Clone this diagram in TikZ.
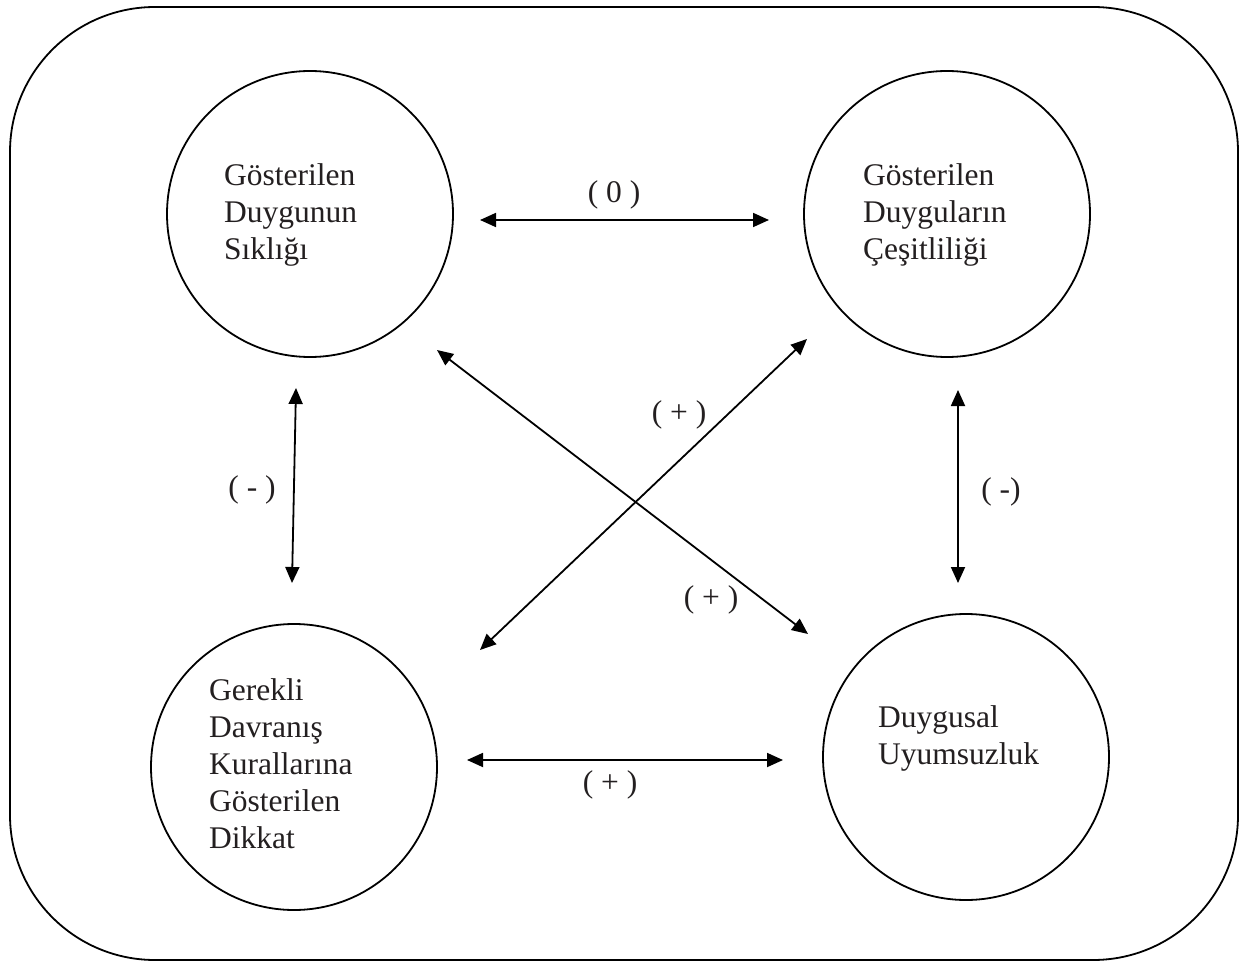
\documentclass[tikz,border=0pt]{standalone}
\usepackage{fontspec}
\setmainfont{Liberation Serif}
\usetikzlibrary{arrows.meta}
\definecolor{ink}{HTML}{231F20}
\tikzset{
  frame/.style={draw=black, line width=1.8pt, rounded corners=145pt},
  bubble/.style={draw=black, line width=1.8pt, circle, minimum size=286pt, inner sep=0pt},
  btext/.style={anchor=west, align=left, inner sep=0pt, text=ink, font=\fontsize{31.5}{37}\selectfont},
  lbl/.style={inner sep=0pt, text=ink, font=\fontsize{31.5}{37}\selectfont},
  dbl/.style={line width=1.8pt, {Triangle[length=16pt,width=14pt]}-{Triangle[length=16pt,width=14pt]}}
}
\begin{document}
\begin{tikzpicture}[x=1pt,y=-1pt]
\useasboundingbox (0,0) rectangle (1242,965);
\draw[frame] (10,7) rectangle (1238,960);
\node[bubble] (tl) at (310,214) {};
\node[bubble] (tr) at (947,214) {};
\node[bubble] (bl) at (294,767) {};
\node[bubble] (br) at (966,757) {};
\node[btext] (tlt) at (224,215) {Gösterilen\\Duygunun\\Sıklığı};
\node[btext] (trt) at (863,215) {Gösterilen\\Duyguların\\Çeşitliliği};
\node[btext] (blt) at (209,764) {Gerekli\\Davranış\\Kurallarına\\Gösterilen\\Dikkat};
\node[btext] (brt) at (878,738) {Duygusal\\Uyumsuzluk};
\draw[dbl] ([shift={(170,6)}]tl.center) -- ([shift={(-178,6)}]tr.center);
\draw[dbl] ([shift={(-14,174)}]tl.center) -- ([shift={(-2,-184)}]bl.center);
\draw[dbl] ([shift={(11,176)}]tr.center) -- ([shift={(-8,-174)}]br.center);
\draw[dbl] ([shift={(173,-7)}]bl.center) -- ([shift={(-183,3)}]br.center);
\draw[dbl] ([shift={(127,136)}]tl.center) -- ([shift={(-158,-123)}]br.center);
\draw[dbl] ([shift={(-140,125)}]tr.center) -- ([shift={(186,-117)}]bl.center);
\node[lbl] (l0) at (614,195) {( 0 )};
\node[lbl] (l1) at (252,490) {( - )};
\node[lbl] (l2) at (1001,492) {( -)};
\node[lbl] (l3) at (610,785) {( + )};
\node[lbl] (l4) at (711,600) {( + )};
\node[lbl] (l5) at (679,415) {( + )};
\end{tikzpicture}
\end{document}
